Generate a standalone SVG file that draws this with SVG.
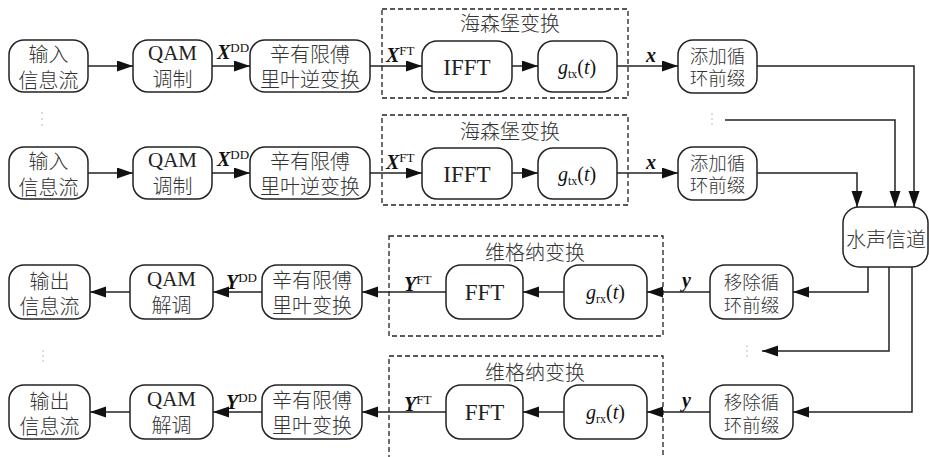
<svg xmlns="http://www.w3.org/2000/svg" width="929" height="457" viewBox="0 0 929 457">
<defs>
<marker id="ah" markerUnits="userSpaceOnUse" markerWidth="17" markerHeight="12" refX="16" refY="5.5" orient="auto">
<path d="M0,0 L16,5.5 L0,11 z" fill="#111"/>
</marker>
<style>
.b{fill:#fff;stroke:#222;stroke-width:1.5}
.d{fill:none;stroke:#222;stroke-width:1.3;stroke-dasharray:5,3}
.c{fill:none;stroke:#222;stroke-width:1.5;marker-end:url(#ah)}
.zh{font-family:"Noto Sans CJK SC",sans-serif;font-size:20px;fill:#333;text-anchor:middle;dominant-baseline:central;font-weight:300}
.zs{font-family:"Noto Sans CJK SC",sans-serif;font-size:18.5px;fill:#333;text-anchor:middle;dominant-baseline:central;font-weight:300}
.en{font-family:"Liberation Serif",serif;font-size:21px;fill:#222;text-anchor:middle;dominant-baseline:central}
.lat{font-family:"Liberation Serif",serif;font-size:21px;fill:#222;font-weight:normal}
.m{font-family:"Liberation Serif",serif;font-size:20px;fill:#111}
.dot{fill:#d0d0d0}
</style>
</defs>
<rect width="929" height="457" fill="#fff"/>

<!-- Transmit row 1 (center 66) -->
<g id="tx1-in"><rect class="b" x="9" y="40" width="79" height="52" rx="15"/><text class="zh" x="48.5" y="53">输入<tspan x="48.5" dy="26">信息流</tspan></text></g>
<g id="tx1-qam"><rect class="b" x="133" y="40" width="79" height="52" rx="15"/><text class="zh" x="172.5" y="53"><tspan class="lat">QAM</tspan><tspan x="172.5" dy="25">调制</tspan></text></g>
<g id="tx1-isfft"><rect class="b" x="250" y="40" width="120" height="52" rx="15"/><text class="zh" x="310" y="53">辛有限傅<tspan x="310" dy="25">里叶逆变换</tspan></text></g>
<g id="tx1-heis"><rect class="d" x="382" y="9" width="246" height="89"/><text class="zh" x="510" y="22">海森堡变换</text></g>
<g id="tx1-ifft"><rect class="b" x="422" y="41" width="90" height="51" rx="15"/><text class="en" x="467" y="67" style="font-size:23px">IFFT</text></g>
<g id="tx1-gtx"><rect class="b" x="538" y="41" width="79" height="51" rx="15"/><text class="m" x="577" y="74" text-anchor="middle"><tspan font-style="italic">g</tspan><tspan font-size="12" dy="4">tx</tspan><tspan dy="-4">(</tspan><tspan font-style="italic">t</tspan>)</text></g>
<g id="tx1-cp"><rect class="b" x="678" y="40" width="79" height="53" rx="15"/><text class="zs" x="717.5" y="55">添加循<tspan x="717.5" dy="22">环前缀</tspan></text></g>

<!-- Transmit row 2 (center 173) -->
<g id="tx2-in"><rect class="b" x="9" y="147" width="79" height="52" rx="15"/><text class="zh" x="48.5" y="160">输入<tspan x="48.5" dy="26">信息流</tspan></text></g>
<g id="tx2-qam"><rect class="b" x="133" y="147" width="79" height="52" rx="15"/><text class="zh" x="172.5" y="160"><tspan class="lat">QAM</tspan><tspan x="172.5" dy="25">调制</tspan></text></g>
<g id="tx2-isfft"><rect class="b" x="250" y="147" width="120" height="52" rx="15"/><text class="zh" x="310" y="160">辛有限傅<tspan x="310" dy="25">里叶逆变换</tspan></text></g>
<g id="tx2-heis"><rect class="d" x="382" y="115" width="246" height="90"/><text class="zh" x="510" y="130">海森堡变换</text></g>
<g id="tx2-ifft"><rect class="b" x="422" y="148" width="90" height="51" rx="15"/><text class="en" x="467" y="174" style="font-size:23px">IFFT</text></g>
<g id="tx2-gtx"><rect class="b" x="538" y="148" width="79" height="51" rx="15"/><text class="m" x="577" y="181" text-anchor="middle"><tspan font-style="italic">g</tspan><tspan font-size="12" dy="4">tx</tspan><tspan dy="-4">(</tspan><tspan font-style="italic">t</tspan>)</text></g>
<g id="tx2-cp"><rect class="b" x="678" y="147" width="79" height="53" rx="15"/><text class="zs" x="717.5" y="162">添加循<tspan x="717.5" dy="22">环前缀</tspan></text></g>

<!-- Channel -->
<g id="channel"><rect class="b" x="843" y="207" width="85" height="60" rx="16"/><text class="zh" x="886" y="238">水声信道</text></g>

<!-- Receive row 3 (center 292) -->
<g id="rx1-out"><rect class="b" x="9" y="265" width="81" height="54" rx="15"/><text class="zh" x="49.5" y="280">输出<tspan x="49.5" dy="25">信息流</tspan></text></g>
<g id="rx1-qam"><rect class="b" x="130" y="265" width="83" height="54" rx="15"/><text class="zh" x="171.5" y="279"><tspan class="lat">QAM</tspan><tspan x="171.5" dy="25">解调</tspan></text></g>
<g id="rx1-sfft"><rect class="b" x="262" y="265" width="100" height="54" rx="15"/><text class="zh" x="312" y="279">辛有限傅<tspan x="312" dy="25">里叶变换</tspan></text></g>
<g id="rx1-wig"><rect class="d" x="389" y="236" width="274" height="100"/><text class="zh" x="535" y="251">维格纳变换</text></g>
<g id="rx1-fft"><rect class="b" x="446" y="265" width="77" height="54" rx="15"/><text class="en" x="484.5" y="292" style="font-size:23px">FFT</text></g>
<g id="rx1-grx"><rect class="b" x="564" y="265" width="83" height="54" rx="15"/><text class="m" x="605.5" y="299" text-anchor="middle"><tspan font-style="italic">g</tspan><tspan font-size="12" dy="4">rx</tspan><tspan dy="-4">(</tspan><tspan font-style="italic">t</tspan>)</text></g>
<g id="rx1-cp"><rect class="b" x="710" y="265" width="83" height="54" rx="15"/><text class="zs" x="751.5" y="281">移除循<tspan x="751.5" dy="23">环前缀</tspan></text></g>

<!-- Receive row 4 (center 412) -->
<g id="rx2-out"><rect class="b" x="9" y="385" width="81" height="54" rx="15"/><text class="zh" x="49.5" y="400">输出<tspan x="49.5" dy="25">信息流</tspan></text></g>
<g id="rx2-qam"><rect class="b" x="130" y="385" width="83" height="54" rx="15"/><text class="zh" x="171.5" y="399"><tspan class="lat">QAM</tspan><tspan x="171.5" dy="25">解调</tspan></text></g>
<g id="rx2-sfft"><rect class="b" x="262" y="385" width="100" height="54" rx="15"/><text class="zh" x="312" y="399">辛有限傅<tspan x="312" dy="25">里叶变换</tspan></text></g>
<g id="rx2-wig"><rect class="d" x="389" y="356" width="274" height="110"/><text class="zh" x="535" y="371">维格纳变换</text></g>
<g id="rx2-fft"><rect class="b" x="446" y="385" width="77" height="54" rx="15"/><text class="en" x="484.5" y="412" style="font-size:23px">FFT</text></g>
<g id="rx2-grx"><rect class="b" x="564" y="385" width="83" height="54" rx="15"/><text class="m" x="605.5" y="419" text-anchor="middle"><tspan font-style="italic">g</tspan><tspan font-size="12" dy="4">rx</tspan><tspan dy="-4">(</tspan><tspan font-style="italic">t</tspan>)</text></g>
<g id="rx2-cp"><rect class="b" x="710" y="385" width="83" height="54" rx="15"/><text class="zs" x="751.5" y="401">移除循<tspan x="751.5" dy="23">环前缀</tspan></text></g>

<!-- Connectors -->
<g id="connectors">
<path class="c" d="M88,66 H133"/>
<path class="c" d="M212,66 H250"/>
<path class="c" d="M370,66 H422"/>
<path class="c" d="M512,66 H538"/>
<path class="c" d="M617,66 H678"/>
<path class="c" d="M757,66 H914 V207"/>

<path class="c" d="M88,173 H133"/>
<path class="c" d="M212,173 H250"/>
<path class="c" d="M370,173 H422"/>
<path class="c" d="M512,173 H538"/>
<path class="c" d="M617,173 H678"/>
<path class="c" d="M757,173 H857 V207"/>
<path class="c" d="M725,120 H895 V207"/>

<path class="c" d="M868,267 V292 H793"/>
<path class="c" d="M889,267 V351 H762"/>
<path class="c" d="M912,267 V412 H793"/>

<path class="c" d="M710,292 H647"/>
<path class="c" d="M564,292 H523"/>
<path class="c" d="M446,292 H362"/>
<path class="c" d="M262,292 H213"/>
<path class="c" d="M130,292 H90"/>

<path class="c" d="M710,412 H647"/>
<path class="c" d="M564,412 H523"/>
<path class="c" d="M446,412 H362"/>
<path class="c" d="M262,412 H213"/>
<path class="c" d="M130,412 H90"/>

<!-- labels -->
<text class="m" x="217" y="59"><tspan font-weight="bold" font-style="italic">X</tspan><tspan font-size="13" dy="-7">DD</tspan></text>
<text class="m" x="386" y="62"><tspan font-weight="bold" font-style="italic">X</tspan><tspan font-size="13" dy="-7">FT</tspan></text>
<text class="m" x="646" y="62" font-weight="bold" font-style="italic">x</text>
<text class="m" x="217" y="166"><tspan font-weight="bold" font-style="italic">X</tspan><tspan font-size="13" dy="-7">DD</tspan></text>
<text class="m" x="386" y="169"><tspan font-weight="bold" font-style="italic">X</tspan><tspan font-size="13" dy="-7">FT</tspan></text>
<text class="m" x="646" y="169" font-weight="bold" font-style="italic">x</text>

<text class="m" x="226" y="289"><tspan font-weight="bold" font-style="italic">Y</tspan><tspan font-size="13" dy="-7">DD</tspan></text>
<text class="m" x="404" y="291"><tspan font-weight="bold" font-style="italic">Y</tspan><tspan font-size="13" dy="-7">FT</tspan></text>
<text class="m" x="682" y="287" font-weight="bold" font-style="italic">y</text>
<text class="m" x="226" y="409"><tspan font-weight="bold" font-style="italic">Y</tspan><tspan font-size="13" dy="-7">DD</tspan></text>
<text class="m" x="404" y="411"><tspan font-weight="bold" font-style="italic">Y</tspan><tspan font-size="13" dy="-7">FT</tspan></text>
<text class="m" x="682" y="407" font-weight="bold" font-style="italic">y</text>
</g>

<!-- faint vertical dots -->
<g id="dots">
<circle class="dot" cx="42" cy="113" r="1"/><circle class="dot" cx="42" cy="119" r="1"/><circle class="dot" cx="42" cy="125" r="1"/>
<circle class="dot" cx="712" cy="114" r="1"/><circle class="dot" cx="712" cy="119" r="1"/><circle class="dot" cx="712" cy="124" r="1"/>
<circle class="dot" cx="43" cy="351" r="1"/><circle class="dot" cx="43" cy="356" r="1"/><circle class="dot" cx="43" cy="361" r="1"/>
<circle class="dot" cx="747" cy="346" r="1"/><circle class="dot" cx="747" cy="351" r="1"/><circle class="dot" cx="747" cy="356" r="1"/>
</g>
</svg>
